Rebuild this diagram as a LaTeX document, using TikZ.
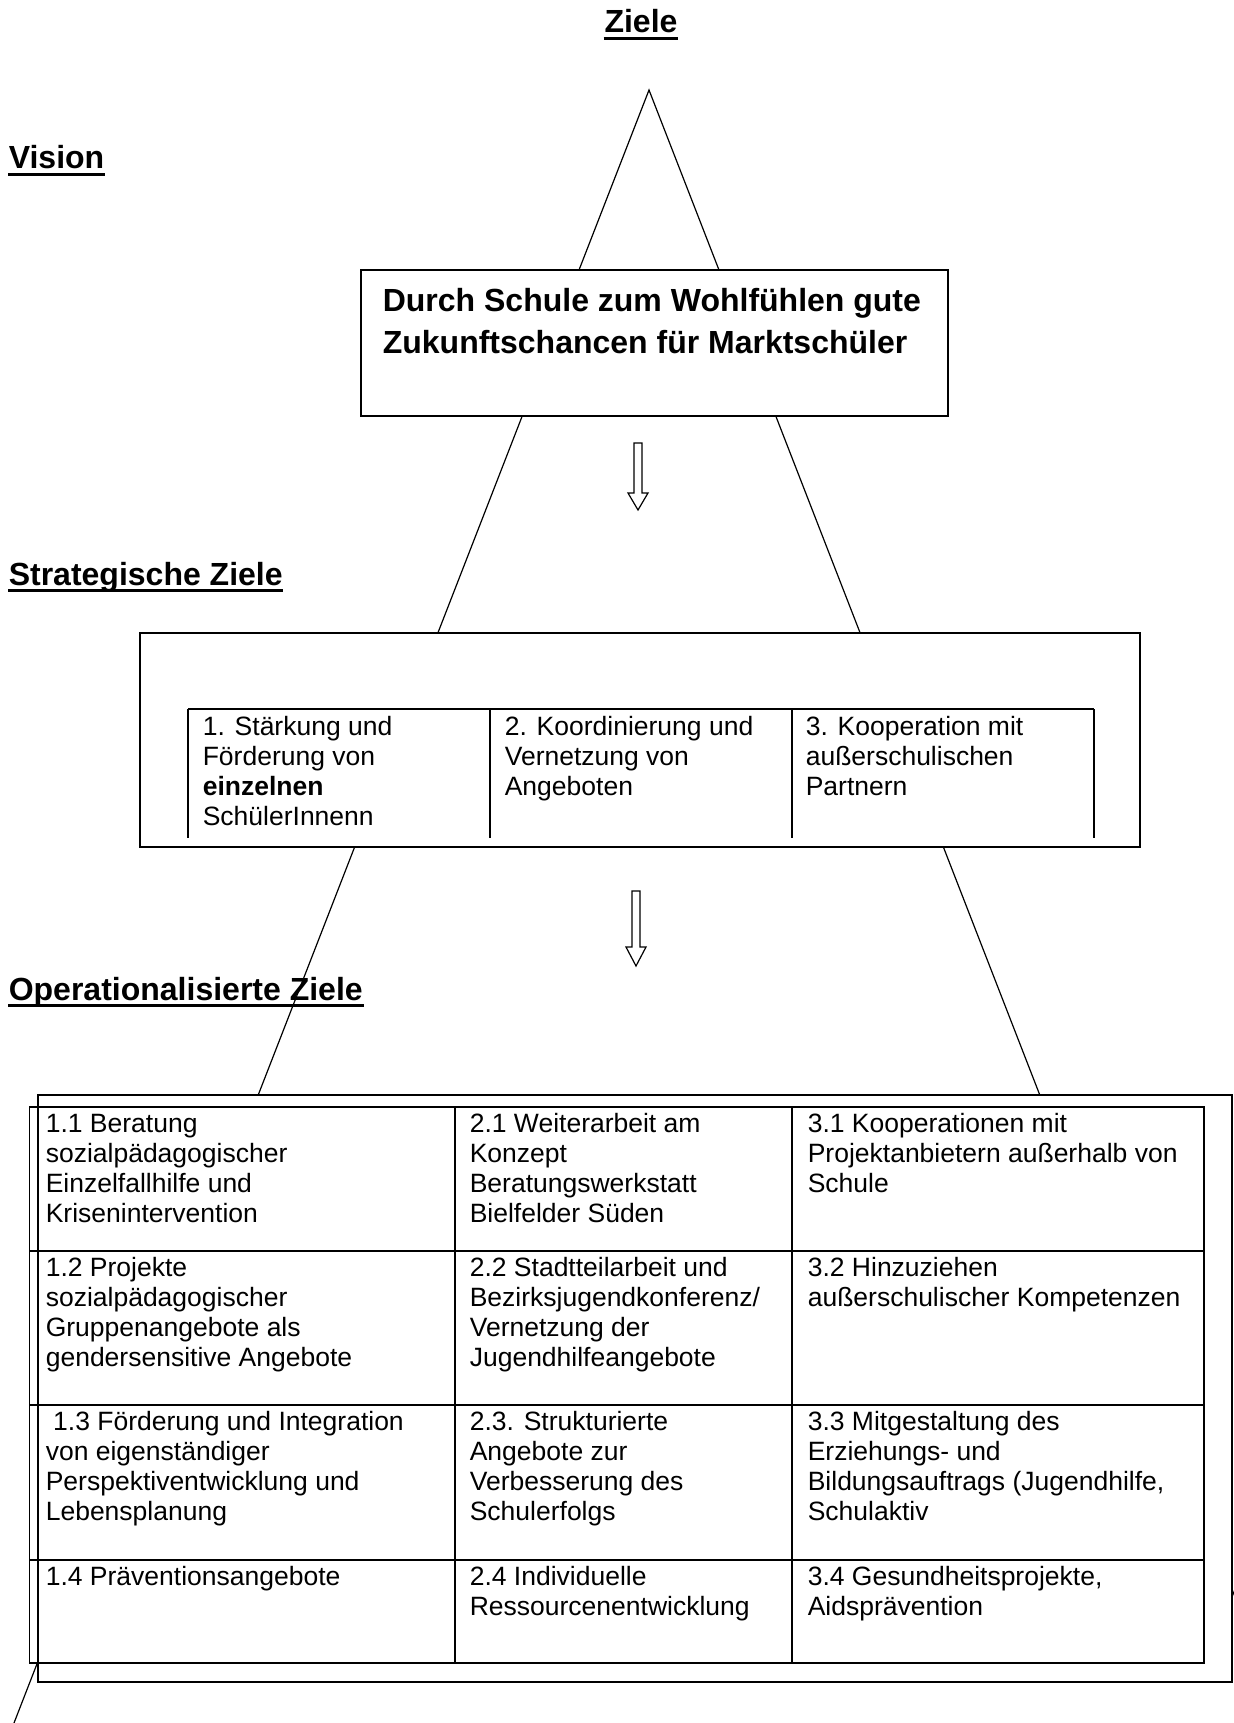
\documentclass[tikz,border=0pt]{standalone}
\usepackage{fontspec}
\setmainfont{Liberation Sans}
\newcommand{\cellrows}[1]{\begin{tabular}[t]{@{}l@{}}#1\end{tabular}}
\begin{document}
\begin{tikzpicture}[x=0.5pt, y=-0.5pt, line width=0.8pt,
	cell/.style={inner sep=0, anchor=base west, font=\fontsize{13.25}{15}\selectfont},
	heading/.style={inner sep=0, anchor=base west, font=\fontsize{16}{19}\selectfont\bfseries}]
	
	\useasboundingbox (0,0) rectangle (1234,1723);
	\clip (0,0) rectangle (1234,1723);
	
	\coordinate (top) at (649,90);
	\coordinate (foot left) at (14,1723);
	\coordinate (foot right) at (1284,1723);
	\draw[line width=0.6pt] (foot left) -- (top) -- (foot right);
	
	\begin{scope}[fill=white]
	\filldraw[line width=0.9pt] (361,270) rectangle (948,416);
	\filldraw[line width=0.9pt] (140,633) rectangle (1140,847);
	\filldraw[line width=1pt] (37.5,1095) rectangle (1232,1682);
	\filldraw[line width=0.6pt] (634,443) -- (642,443) -- (642,493) -- (648,493) -- (638,510) -- (628,493) -- (634,493) -- cycle;
	\filldraw[line width=0.6pt] (632,891) -- (640,891) -- (640,947) -- (646,947) -- (636,966) -- (626,947) -- (632,947) -- cycle;
	\end{scope}
	
	\begin{scope}
	\node[heading, anchor=base] (ziele) at (641,33) {Ziele};
	\node[heading] (vision) at (8,169) {Vision};
	\node[heading] (strat) at (8,585) {Strategische Ziele};
	\node[heading] (oper) at (8,1000) {Operationalisierte Ziele};
	\foreach \n in {ziele,vision,strat,oper}
		\draw[line width=1.75pt] ([yshift=-2.75pt]\n.base west) -- ([yshift=-2.75pt]\n.base east);
	\end{scope}
	
	\node[cell, font=\fontsize{16}{21}\selectfont\bfseries] (leitbild) at (382,311)
		{\cellrows{Durch Schule zum Wohlfühlen gute\\Zukunftschancen für Marktschüler}};
	
	\begin{scope}
	\draw[line width=1pt] (188,709) -- (1094,709);
	\foreach \x in {188,490,792,1094}
		\draw[line width=0.6pt] (\x,709) -- (\x,838);
	\node[cell] (strat 1) at (202,735) {\cellrows{1. Stärkung und\\Förderung von\\\textbf{einzelnen}\\SchülerInnenn}};
	\node[cell] (strat 2) at (504,735) {\cellrows{2. Koordinierung und\\Vernetzung von\\Angeboten}};
	\node[cell] (strat 3) at (805,735) {\cellrows{3. Kooperation mit\\außerschulischen\\Partnern}};
	\end{scope}
	
	\begin{scope}
	\draw (29.6,1107) rectangle (1204,1663);
	\foreach \x in {455,792}
		\draw (\x,1107) -- (\x,1663);
	\foreach \y in {1251,1405,1560}
		\draw (29.6,\y) -- (1204,\y);
	
	\node[cell] (op 11) at (45,1132) {\cellrows{1.1 Beratung\\sozialpädagogischer\\Einzelfallhilfe und\\Krisenintervention}};
	\node[cell] (op 21) at (469,1132) {\cellrows{2.1 Weiterarbeit am\\Konzept\\Beratungswerkstatt\\Bielfelder Süden}};
	\node[cell] (op 31) at (807,1132) {\cellrows{3.1 Kooperationen mit\\Projektanbietern außerhalb von\\Schule}};
	
	\node[cell] (op 12) at (45,1276) {\cellrows{1.2 Projekte\\sozialpädagogischer\\Gruppenangebote als\\gendersensitive Angebote}};
	\node[cell] (op 22) at (469,1276) {\cellrows{2.2 Stadtteilarbeit und\\Bezirksjugendkonferenz/\\Vernetzung der\\Jugendhilfeangebote}};
	\node[cell] (op 32) at (807,1276) {\cellrows{3.2 Hinzuziehen\\außerschulischer Kompetenzen}};
	
	\node[cell] (op 13) at (45,1430) {\cellrows{\ 1.3 Förderung und Integration\\von eigenständiger\\Perspektiventwicklung und\\Lebensplanung}};
	\node[cell] (op 23) at (469,1430) {\cellrows{2.3. Strukturierte\\Angebote zur\\Verbesserung des\\Schulerfolgs}};
	\node[cell] (op 33) at (807,1430) {\cellrows{3.3 Mitgestaltung des\\Erziehungs- und\\Bildungsauftrags (Jugendhilfe,\\Schulaktiv}};
	
	\node[cell] (op 14) at (45,1585) {\cellrows{1.4 Präventionsangebote}};
	\node[cell] (op 24) at (469,1585) {\cellrows{2.4 Individuelle\\Ressourcenentwicklung}};
	\node[cell] (op 34) at (807,1585) {\cellrows{3.4 Gesundheitsprojekte,\\Aidsprävention}};
	\end{scope}
	
\end{tikzpicture}
\end{document}
